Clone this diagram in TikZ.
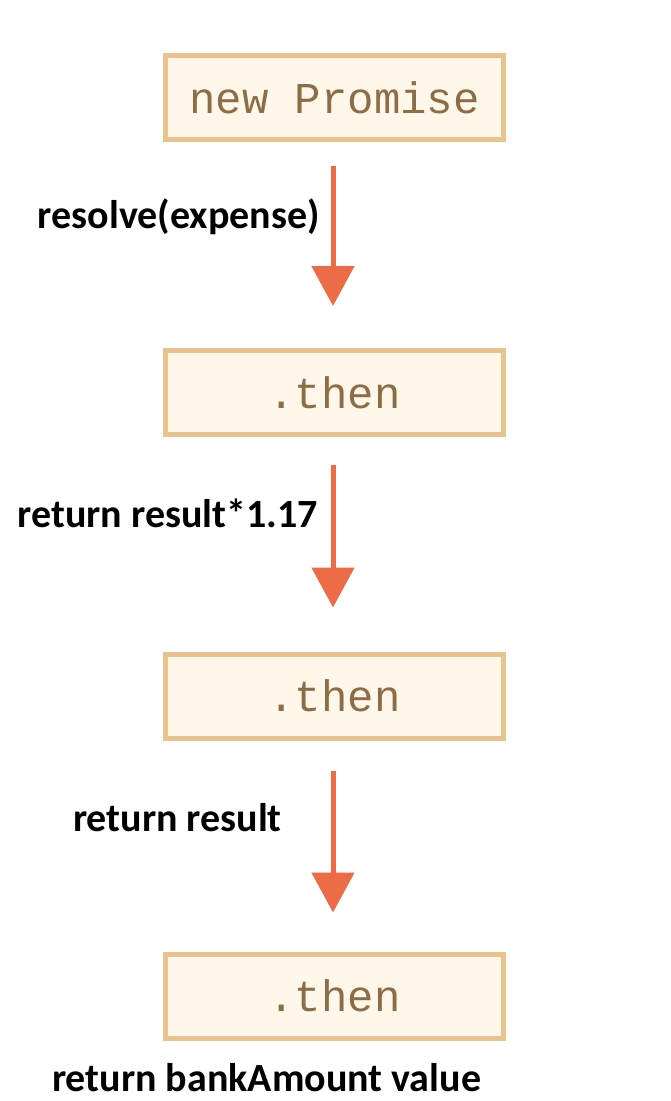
\documentclass[tikz,border=0pt]{standalone}
\usepackage{fontspec}
\setmainfont{Carlito}
\newfontfamily\boxmono{Liberation Mono}
\usetikzlibrary{arrows.meta}
\definecolor{boxfill}{HTML}{FFF8EA}
\definecolor{boxline}{HTML}{E8C38D}
\definecolor{boxtext}{HTML}{8C6D45}
\definecolor{arrowc}{HTML}{EE6B47}
\tikzset{
  stepbox/.style={draw=boxline, fill=boxfill, line width=5pt, minimum width=338pt, minimum height=84pt, inner sep=0pt, font=\boxmono\fontsize{44}{50}\selectfont, text=boxtext},
  flow/.style={draw=arrowc, line width=5pt, -{Triangle[width=42pt,length=40pt]}},
  lbl/.style={font=\bfseries\fontsize{40}{46}\selectfont, text=black, inner sep=0pt}
}
\begin{document}
\begin{tikzpicture}[x=1pt,y=-1pt]
\useasboundingbox (0,0) rectangle (670,1101);
\node[stepbox] (b1) at (334.5,97.5) {new Promise};
\node[stepbox] (b2) at (334.5,392.5) {.then};
\node[stepbox] (b3) at (334.5,696) {.then};
\node[stepbox] (b4) at (334.5,996) {.then};
\draw[flow, shorten <=24pt, shorten >=42pt] (b1.south -| 333,0) -- (b2.north -| 333,0);
\draw[flow, shorten <=28pt, shorten >=44pt] (b2.south -| 333,0) -- (b3.north -| 333,0);
\draw[flow, shorten <=30pt, shorten >=39pt] (b3.south -| 333,0) -- (b4.north -| 333,0);
\node[lbl, anchor=east] (l1) at (320,217) {resolve(expense)};
\node[lbl, anchor=east] (l2) at (318,513) {return result*1.17};
\node[lbl, anchor=east] (l3) at (282,818) {return result};
\node[lbl, anchor=west] (l4) at (52,1078) {return bankAmount value};
\end{tikzpicture}
\end{document}
